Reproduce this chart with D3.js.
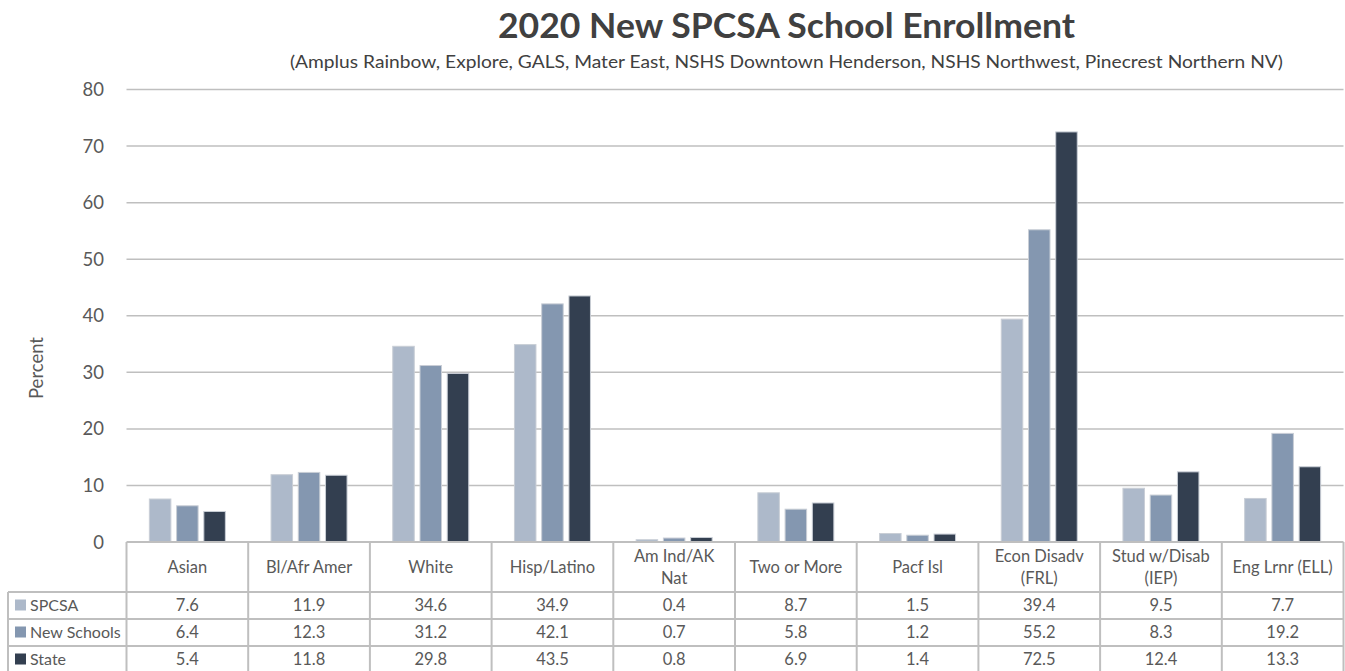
<!DOCTYPE html>
<html>
<head>
<meta charset="utf-8">
<script src="https://cdn.jsdelivr.net/npm/d3@7"></script>
<style>
  body { margin: 0; background: #fff; }
  svg text { font-family: Lato, "Open Sans", sans-serif; fill: #595959; }
</style>
</head>
<body>
<svg id="chart" width="1345" height="671"></svg>
<script>
// chart data
const categories = ["Asian", "Bl/Afr Amer", "White", "Hisp/Latino", "Am Ind/AK Nat",
    "Two or More", "Pacf Isl", "Econ Disadv (FRL)", "Stud w/Disab (IEP)", "Eng Lrnr (ELL)"];
const categoryLines = [["Asian"], ["Bl/Afr Amer"], ["White"], ["Hisp/Latino"], ["Am Ind/AK", "Nat"],
    ["Two or More"], ["Pacf Isl"], ["Econ Disadv", "(FRL)"], ["Stud w/Disab", "(IEP)"], ["Eng Lrnr (ELL)"]];
const seriesNames = ["SPCSA", "New Schools", "State"];
const spcsa      = [7.6, 11.9, 34.6, 34.9, 0.4, 8.7, 1.5, 39.4, 9.5, 7.7];
const newSchools = [6.4, 12.3, 31.2, 42.1, 0.7, 5.8, 1.2, 55.2, 8.3, 19.2];
const state      = [5.4, 11.8, 29.8, 43.5, 0.8, 6.9, 1.4, 72.5, 12.4, 13.3];
const yTicks = [0, 10, 20, 30, 40, 50, 60, 70, 80];

const seriesValues = [spcsa, newSchools, state];
const colors = ["#adb9ca", "#8497b0", "#333f50"];

const svg = d3.select("#chart");

// layout
const plotLeft = 126.5, plotRight = 1343.5, plotTop = 89.5, zeroY = 542;
const gridColor = "#bfbfbf";

const x = d3.scaleBand().domain(categories).range([plotLeft, plotRight]);
const cw = x.bandwidth();
const x1 = d3.scaleBand().domain(seriesNames)
    .range([cw / 2 - 38, cw / 2 + 38]).paddingInner(0.21);
const y = d3.scaleLinear().domain([0, 80]).range([zeroY, plotTop]);

// title
svg.append("text")
    .attr("x", 786.5).attr("y", 38)
    .attr("text-anchor", "middle")
    .attr("font-size", 34).attr("font-weight", "bold")
    .attr("textLength", 577).attr("lengthAdjust", "spacingAndGlyphs")
    .style("fill", "#404040")
    .text("2020 New SPCSA School Enrollment");

svg.append("text")
    .attr("x", 786.5).attr("y", 68)
    .attr("text-anchor", "middle")
    .attr("font-size", 18)
    .attr("textLength", 993).attr("lengthAdjust", "spacingAndGlyphs")
    .style("fill", "#404040")
    .text("(Amplus Rainbow, Explore, GALS, Mater East, NSHS Downtown Henderson,  NSHS Northwest, Pinecrest Northern NV)");

// gridlines
svg.append("g").selectAll("line")
    .data(yTicks.filter(d => d > 0))
    .join("line")
    .attr("x1", plotLeft).attr("x2", plotRight)
    .attr("y1", d => y(d)).attr("y2", d => y(d))
    .attr("stroke", gridColor).attr("stroke-width", 1.5);

// y axis labels
svg.append("g").selectAll("text")
    .data(yTicks)
    .join("text")
    .attr("x", 104).attr("y", d => y(d) + 6.5)
    .attr("text-anchor", "end")
    .attr("font-size", 18.5)
    .text(d => d);

svg.append("text")
    .attr("transform", "translate(43,368) rotate(-90)")
    .attr("text-anchor", "middle")
    .attr("font-size", 18.5)
    .text("Percent");

// bars
seriesNames.forEach((s, si) => {
    svg.append("g").selectAll("rect")
        .data(categories.map((c, i) => ({c: c, v: seriesValues[si][i]})))
        .join("rect")
        .attr("x", d => x(d.c) + x1(s))
        .attr("width", x1.bandwidth())
        .attr("y", d => y(d.v))
        .attr("height", d => zeroY - y(d.v))
        .attr("fill", colors[si])
        .attr("stroke", "#c9ced6").attr("stroke-width", 1);
});

// data table
const headerBottom = 592, rowH = 27;
const tableLeft = 8;
const tbl = svg.append("g");

// horizontal lines
tbl.append("line").attr("x1", plotLeft).attr("x2", plotRight)
    .attr("y1", zeroY).attr("y2", zeroY)
    .attr("stroke", gridColor).attr("stroke-width", 2);
seriesNames.forEach((s, si) => {
    tbl.append("line").attr("x1", tableLeft).attr("x2", plotRight)
        .attr("y1", headerBottom + si * rowH).attr("y2", headerBottom + si * rowH)
        .attr("stroke", gridColor).attr("stroke-width", 2);
});

// vertical lines
const edges = categories.map(c => x(c)).concat([plotRight]);
tbl.selectAll("line.v")
    .data(edges)
    .join("line").attr("class", "v")
    .attr("x1", d => d).attr("x2", d => d)
    .attr("y1", zeroY).attr("y2", 671)
    .attr("stroke", gridColor).attr("stroke-width", 2);
tbl.append("line").attr("x1", tableLeft).attr("x2", tableLeft)
    .attr("y1", headerBottom).attr("y2", 671)
    .attr("stroke", gridColor).attr("stroke-width", 2);

// header labels
categories.forEach((c, i) => {
    const lines = categoryLines[i];
    const cy = (zeroY + headerBottom) / 2;
    lines.forEach((ln, li) => {
        tbl.append("text")
            .attr("x", x(c) + cw / 2)
            .attr("y", cy + 5.5 + (li - (lines.length - 1) / 2) * 22)
            .attr("text-anchor", "middle")
            .attr("font-size", 16.5)
            .text(ln);
    });
});

// legend column and values
seriesNames.forEach((s, si) => {
    const cy = headerBottom + si * rowH + rowH / 2;
    tbl.append("rect")
        .attr("x", 15).attr("y", cy - 6)
        .attr("width", 11).attr("height", 11)
        .attr("fill", colors[si]);
    tbl.append("text")
        .attr("x", 30).attr("y", cy + 5.5)
        .attr("font-size", 16)
        .text(s);
    tbl.append("g").selectAll("text")
        .data(categories.map((c, i) => ({c: c, v: seriesValues[si][i]})))
        .join("text")
        .attr("x", d => x(d.c) + cw / 2)
        .attr("y", cy + 5.5)
        .attr("text-anchor", "middle")
        .attr("font-size", 16.5)
        .text(d => d.v.toFixed(1));
});
</script>
</body>
</html>
